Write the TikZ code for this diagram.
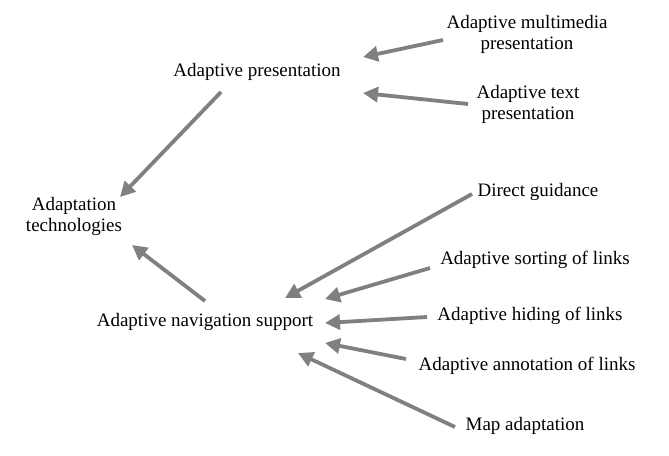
\documentclass[tikz,border=0pt]{standalone}
\usepackage{fontspec}
\setmainfont{Liberation Serif}
\usetikzlibrary{arrows.meta}
\definecolor{arrowgray}{HTML}{808080}
\tikzset{
  lbl/.style={inner sep=0pt, align=center, font=\fontsize{19}{21}\selectfont, text=black},
  conn/.style={draw=arrowgray, line width=3.8pt, -{Triangle[length=15pt,width=15pt]}}
}
\begin{document}
\begin{tikzpicture}[x=1pt,y=-1pt]
\useasboundingbox (0,0) rectangle (669,455);
\node[lbl] (mm)  at (527,34)    {Adaptive multimedia\\presentation};
\node[lbl] (ap)  at (257,72)    {Adaptive presentation};
\node[lbl] (tp)  at (528,104.5) {Adaptive text\\presentation};
\node[lbl] (at)  at (74,216)    {Adaptation\\technologies};
\node[lbl] (dg)  at (538,192)   {Direct guidance};
\node[lbl] (so)  at (535,260)   {Adaptive sorting of links};
\node[lbl] (ans) at (205,322)   {Adaptive navigation support};
\node[lbl] (hi)  at (530,316)   {Adaptive hiding of links};
\node[lbl] (an)  at (527,366)   {Adaptive annotation of links};
\node[lbl] (map) at (525,426)   {Map adaptation};

\draw[conn] ([shift={(-84,6)}]mm.center)    -- ([shift={(106,-15)}]ap.center);
\draw[conn] ([shift={(-60,-0.5)}]tp.center) -- ([shift={(106,21)}]ap.center);
\draw[conn] ([shift={(-36,20)}]ap.center)   -- ([shift={(46,-19)}]at.center);
\draw[conn] ([shift={(0,-21)}]ans.center)   -- ([shift={(58,29)}]at.center);
\draw[conn] ([shift={(-66,2)}]dg.center)    -- ([shift={(80,-24)}]ans.center);
\draw[conn] ([shift={(-105,8)}]so.center)   -- ([shift={(120,-23)}]ans.center);
\draw[conn] ([shift={(-103,1)}]hi.center)   -- ([shift={(120,1)}]ans.center);
\draw[conn] ([shift={(-121,-7)}]an.center)  -- ([shift={(120,21)}]ans.center);
\draw[conn] ([shift={(-70,1)}]map.center)   -- ([shift={(93,31)}]ans.center);
\end{tikzpicture}
\end{document}
